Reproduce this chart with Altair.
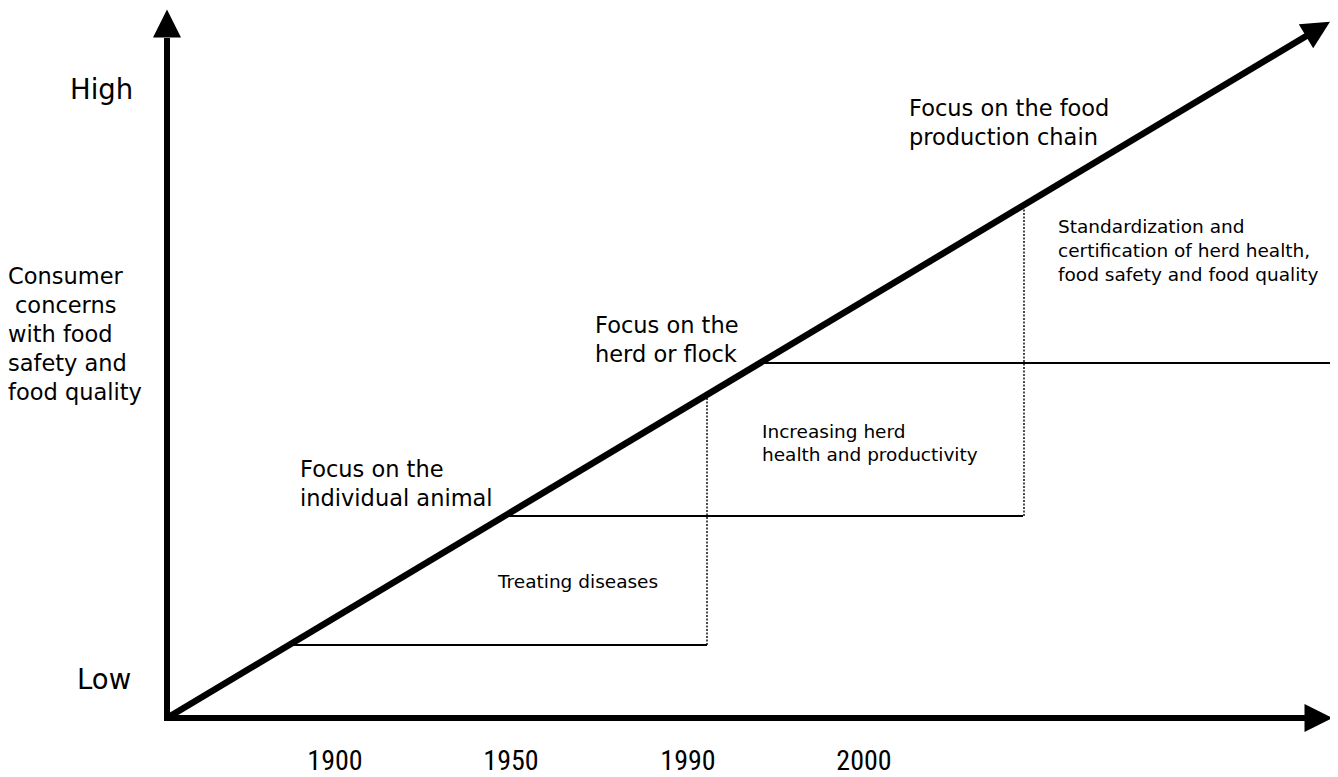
import altair as alt
import pandas as pd

# Diagram units: x = time axis (px from origin), y = consumer concern level
# Consumer concern trend line (thick diagonal)
concern_x = [0, 1151]
concern_y = [0, 689]

# Horizontal "phase" levels
level_y = [73, 202, 355]
level_x_start = [122, 337, 593]
level_x_end = [540, 856, 1163]

# Dotted steps
step_x = [540, 857]
step_y_low = [73, 202]
step_y_high = [323, 513]

# Axis lines
axis_x = [0, -3]
axis_y = [-3, 0]
axis_x2 = [0, 1140]
axis_y2 = [680, 0]

# Arrow heads
head_x = [0, 1151.5, 1151]
head_y = [694.5, 0, 689]
head_angle = [0, 90, 59.1]

# Year labels
years = ["1900", "1950", "1990", "2000"]
year_x = [168, 344, 521, 697]
year_y = [-52, -52, -52, -52]

# End labels of the vertical axis
end_labels = ["High", "Low"]
end_x = [-97, -90]
end_y = [619, 29]

# Vertical axis title lines
title_lines = ["Consumer", "concerns", "with food", "safety and", "food quality"]
title_x = [-159, -152, -159, -159, -159]
title_y = [434, 405, 376, 347, 318]

# Focus labels (larger text)
focus_lines = ["Focus on the", "individual animal", "Focus on the", "herd or flock",
               "Focus on the food", "production chain"]
focus_x = [133, 133, 428, 428, 742, 742]
focus_y = [241, 212, 385, 356, 602, 573]

# Phase descriptions (smaller text)
phase_lines = ["Treating diseases", "Increasing herd", "health and productivity",
               "Standardization and", "certification of herd health,",
               "food safety and food quality"]
phase_x = [331, 595, 595, 891, 891, 891]
phase_y = [130, 280, 257, 485, 461, 437]

xs = alt.Scale(domain=[-159, 1163], nice=False, zero=False)
ys = alt.Scale(domain=[-59, 710], nice=False, zero=False)

def XY(xf="x", yf="y"):
    return dict(x=alt.X(f"{xf}:Q", scale=xs, axis=None),
                y=alt.Y(f"{yf}:Q", scale=ys, axis=None))

axes_df = pd.DataFrame({"x": axis_x, "y": axis_y, "x2": axis_x2, "y2": axis_y2})
axes = alt.Chart(axes_df).mark_rule(color="black", strokeWidth=6, strokeCap="butt").encode(
    **XY(), x2="x2:Q", y2="y2:Q")

diag_df = pd.DataFrame({"x": [concern_x[0]], "y": [concern_y[0]],
                        "x2": [concern_x[1]], "y2": [concern_y[1]]})
diag = alt.Chart(diag_df).mark_rule(color="black", strokeWidth=6.5, strokeCap="butt").encode(
    **XY(), x2="x2:Q", y2="y2:Q")

lev_df = pd.DataFrame({"x": level_x_start, "x2": level_x_end, "y": level_y})
levels = alt.Chart(lev_df).mark_rule(color="black", strokeWidth=1.8).encode(
    **XY(), x2="x2:Q")

step_df = pd.DataFrame({"x": step_x, "y": step_y_low, "y2": step_y_high})
steps = alt.Chart(step_df).mark_rule(color="black", strokeWidth=1.4, strokeDash=[2, 1.5]).encode(
    **XY(), y2="y2:Q")

head_df = pd.DataFrame({"x": head_x, "y": head_y, "angle": head_angle})
heads = alt.Chart(head_df).mark_point(
    shape="M0,-1L1,1L-1,1Z", filled=True, size=784, color="black", opacity=1, strokeWidth=0
).encode(**XY(), angle=alt.Angle("angle:Q", scale=None))

def text_layer(texts, tx, ty, size, font, align="left", weight="normal"):
    df = pd.DataFrame({"x": tx, "y": ty, "t": texts})
    return alt.Chart(df).mark_text(
        align=align, baseline="alphabetic", fontSize=size, font=font,
        fontWeight=weight, color="black"
    ).encode(**XY(), text="t:N")

sans = "DejaVu Sans"
narrow = "Liberation Sans Narrow, Roboto Condensed, Arial Narrow, sans-serif"

t_years = text_layer(years, year_x, year_y, 28, narrow, align="center")
t_end = text_layer(end_labels, end_x, end_y, 27.5, sans)
t_title = text_layer(title_lines, title_x, title_y, 22.5, sans)
t_focus = text_layer(focus_lines, focus_x, focus_y, 22.5, sans)
t_phase = text_layer(phase_lines, phase_x, phase_y, 18.5, sans)

chart = alt.layer(
    levels, steps, axes, diag, heads, t_years, t_end, t_title, t_focus, t_phase
).properties(
    width=1322, height=769, padding=0,
    autosize=alt.AutoSizeParams(type="none"),
    background="white"
).configure_view(stroke=None)

chart.save("out.html", embed_options={"renderer": "svg", "actions": False})
